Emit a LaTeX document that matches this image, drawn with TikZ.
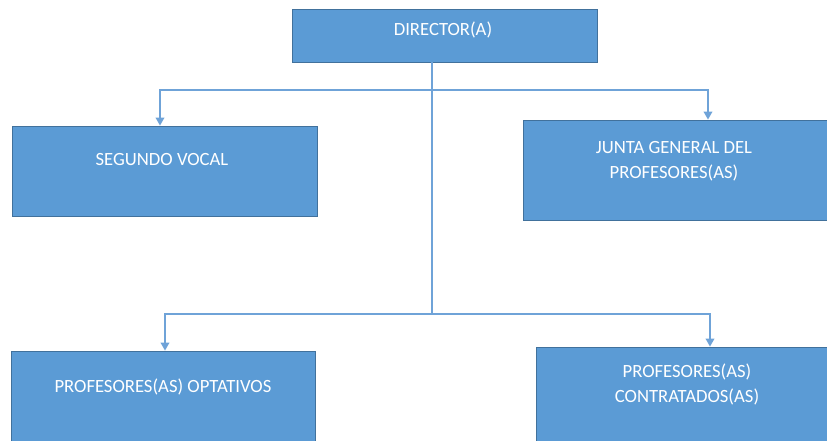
\documentclass[tikz,border=0pt]{standalone}
\usepackage{fontspec}
\setmainfont{Carlito}
\usetikzlibrary{arrows.meta}

\definecolor{boxfill}{HTML}{5B9BD5}
\definecolor{boxline}{HTML}{41719C}
\definecolor{linkcol}{HTML}{6FA3D8}

\tikzset{every picture/.style={line width=0.75pt}}
\tikzset{
  unitbox/.style={draw=boxline, fill=boxfill, line width=0.6pt, inner sep=0pt},
  caption/.style={text=white, align=center, inner sep=0.75pt,
    font=\fontsize{14}{18.75}\selectfont},
  link/.style={draw=linkcol, line width=1.1pt},
  linkarrow/.style={link, -{Triangle[length=6pt,width=6.5pt]}}
}

\begin{document}
\begin{tikzpicture}[x=0.75pt,y=0.75pt,yscale=-1,xscale=1]
    \useasboundingbox (0,0) rectangle (827,441);

    %Shape: Rectangle [director]
    \node[unitbox, minimum width=228.75pt, minimum height=39.75pt] (dir) at (444.5,35.5) {};
    %Shape: Rectangle [segundo vocal]
    \node[unitbox, minimum width=228.75pt, minimum height=67.5pt] (voc) at (164.5,171) {};
    %Shape: Rectangle [junta general]
    \node[unitbox, minimum width=228pt, minimum height=75pt] (jun) at (675,170) {};
    %Shape: Rectangle [optativos]
    \node[unitbox, minimum width=228pt, minimum height=70.5pt] (opt) at (163,398) {};
    %Shape: Rectangle [contratados]
    \node[unitbox, minimum width=228pt, minimum height=73.5pt] (con) at (688,396) {};

    %Straight Lines [trunk and branches]
    \coordinate (upper) at (432,90);
    \coordinate (lower) at (432,314);
    \draw[link] (dir.south -| lower) -- (lower);
    \draw[linkarrow] (upper) -| (voc.north -| 160,0);
    \draw[linkarrow] (upper) -| (jun.north -| 708,0);
    \draw[linkarrow] (lower) -| (opt.north -| 165,0);
    \draw[linkarrow] (lower) -| (con.north -| 710,0);

    % Text Node
    \node[caption] (dirtxt) at (443,30) {DIRECTOR(A)};
    % Text Node
    \node[caption] (voctxt) at (162,160) {SEGUNDO VOCAL};
    % Text Node
    \node[caption] (juntxt) at (674,161) {JUNTA GENERAL DEL\\PROFESORES(AS)};
    % Text Node
    \node[caption] (opttxt) at (163,387) {PROFESORES(AS) OPTATIVOS};
    % Text Node
    \node[caption] (contxt) at (687,384) {PROFESORES(AS)\\CONTRATADOS(AS)};

\end{tikzpicture}
\end{document}
